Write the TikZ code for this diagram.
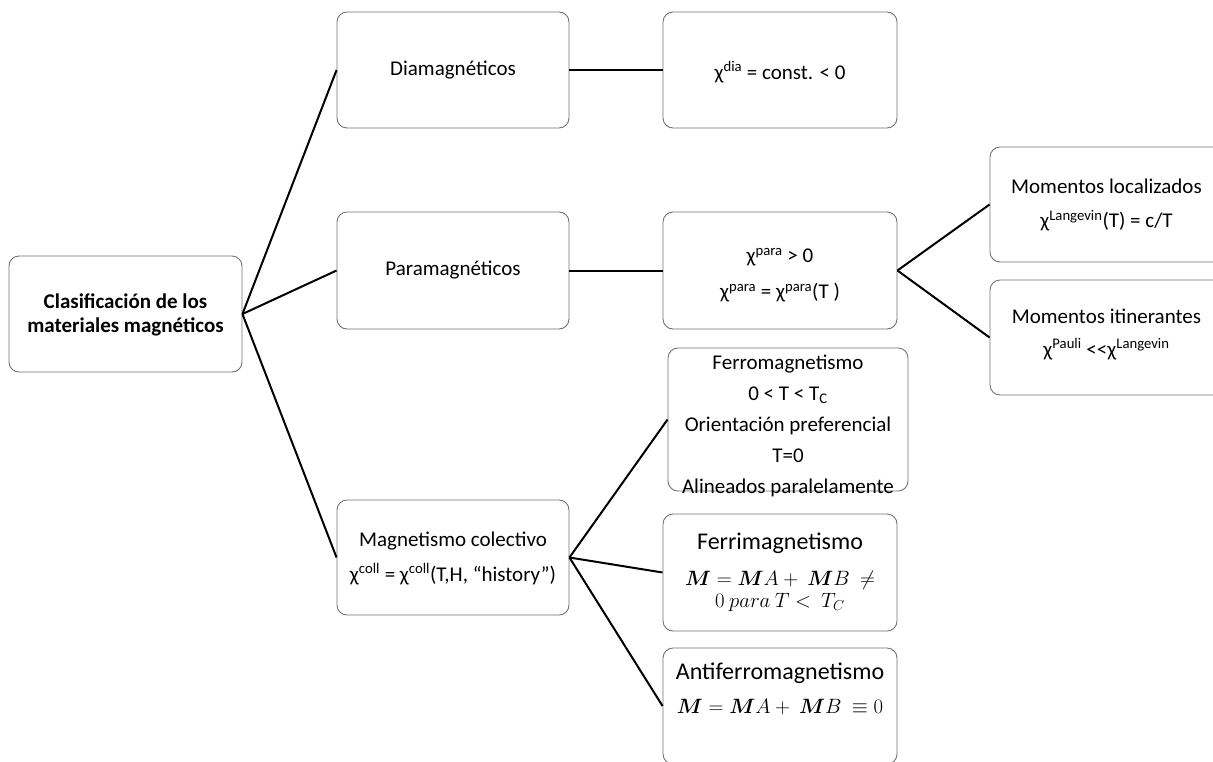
\documentclass[tikz,border=0pt]{standalone}
\usepackage{fontspec}
\setmainfont{Carlito}
\usepackage{amsmath,bm}
\newcommand{\chisup}[1]{χ\textsuperscript{#1}}
\begin{document}
\begin{tikzpicture}[x=1pt,y=-1pt,
  box/.style={draw=black!55, line width=0.9pt, rounded corners=10pt, fill=white,
    inner sep=0pt, minimum width=#1},
  box/.default=233pt,
  txt/.style={align=center, inner sep=0pt, text=black},
  conn/.style={draw=black, line width=2pt},
  fa/.style={font=\fontsize{21}{25}\selectfont},
  fb/.style={font=\fontsize{24}{27}\selectfont},
  fm/.style={font=\fontsize{19.5}{22}\selectfont}]
\useasboundingbox (0,0) rectangle (1213,761);
\begin{scope}
\clip (0,0) rectangle (1213,761);
% boxes
\node[box, minimum height=116pt] (root) at (125.5,314) {};
\node[box=232pt, minimum height=116pt] (dia) at (453,70) {};
\node[box=232pt, minimum height=117pt] (para) at (453,270.5) {};
\node[box=232pt, minimum height=115pt] (coll) at (453,557.5) {};
\node[box=234pt, minimum height=116pt] (chidia) at (780,70) {};
\node[box=234pt, minimum height=117pt] (chipara) at (780,270.5) {};
\node[box=233pt, minimum height=115pt] (loc) at (1106.5,204.5) {};
\node[box=233pt, minimum height=115pt] (itin) at (1106.5,337.5) {};
\node[box=240pt, minimum height=143pt] (ferro) at (788,419.5) {};
\node[box=234pt, minimum height=117pt] (ferri) at (780,572.5) {};
\node[box=234pt, minimum height=116pt] (anti) at (780,706) {};
% connectors
\draw[conn] (root.east) -- (dia.west);
\draw[conn] (root.east) -- (para.west);
\draw[conn] (root.east) -- (coll.west);
\draw[conn] (dia.east) -- (chidia.west);
\draw[conn] (para.east) -- (chipara.west);
\draw[conn] (chipara.east) -- (loc.west);
\draw[conn] (chipara.east) -- (itin.west);
\draw[conn] (coll.east) -- (ferro.west);
\draw[conn] (coll.east) -- (ferri.west);
\draw[conn] (coll.east) -- (anti.west);
% texts
\node[txt, font=\fontsize{21}{24}\selectfont\bfseries] (root-t) at (125.5,315) {Clasificación de los\\materiales magnéticos};
\node[txt, fa] (dia-t) at (453,70) {Diamagnéticos};
\node[txt, fa] (para-t) at (453,270) {Paramagnéticos};
\node[txt, font=\fontsize{21}{35}\selectfont] (coll-t) at (453,558) {Magnetismo colectivo\\\chisup{coll} = \chisup{coll}(T,H, “history”)};
\node[txt, fa] (chidia-t) at (780,72) {\chisup{dia} = const. < 0};
\node[txt, font=\fontsize{21}{36}\selectfont] (chipara-t) at (780,275) {\chisup{para} > 0\\\chisup{para} = \chisup{para}(T )};
\node[txt, font=\fontsize{21}{34}\selectfont] (loc-t) at (1106.5,205) {Momentos localizados\\\chisup{Langevin}(T) = c/T};
\node[txt, font=\fontsize{21}{33}\selectfont] (itin-t) at (1106.5,334) {Momentos itinerantes\\\chisup{Pauli} {<}{<}\chisup{Langevin}};
\node[txt, font=\fontsize{21}{31}\selectfont] (ferro-t) at (788,426) {Ferromagnetismo\\0 < T < T\textsubscript{C}\\Orientación preferencial\\T=0\\Alineados paralelamente};
\node[txt, fb] (ferri-t) at (780,543) {Ferrimagnetismo};
\node[txt, fm] (ferri-m) at (780,591) {$\bm{M} = \bm{M}A +\ \bm{M}B\ \neq$\\$0\ para\ T <\ T_C$};
\node[txt, fb] (anti-t) at (780,673) {Antiferromagnetismo};
\node[txt, fm] (anti-m) at (780,707) {$\bm{M} = \bm{M}A +\ \bm{M}B\ \equiv 0$};
\end{scope}
\end{tikzpicture}
\end{document}
